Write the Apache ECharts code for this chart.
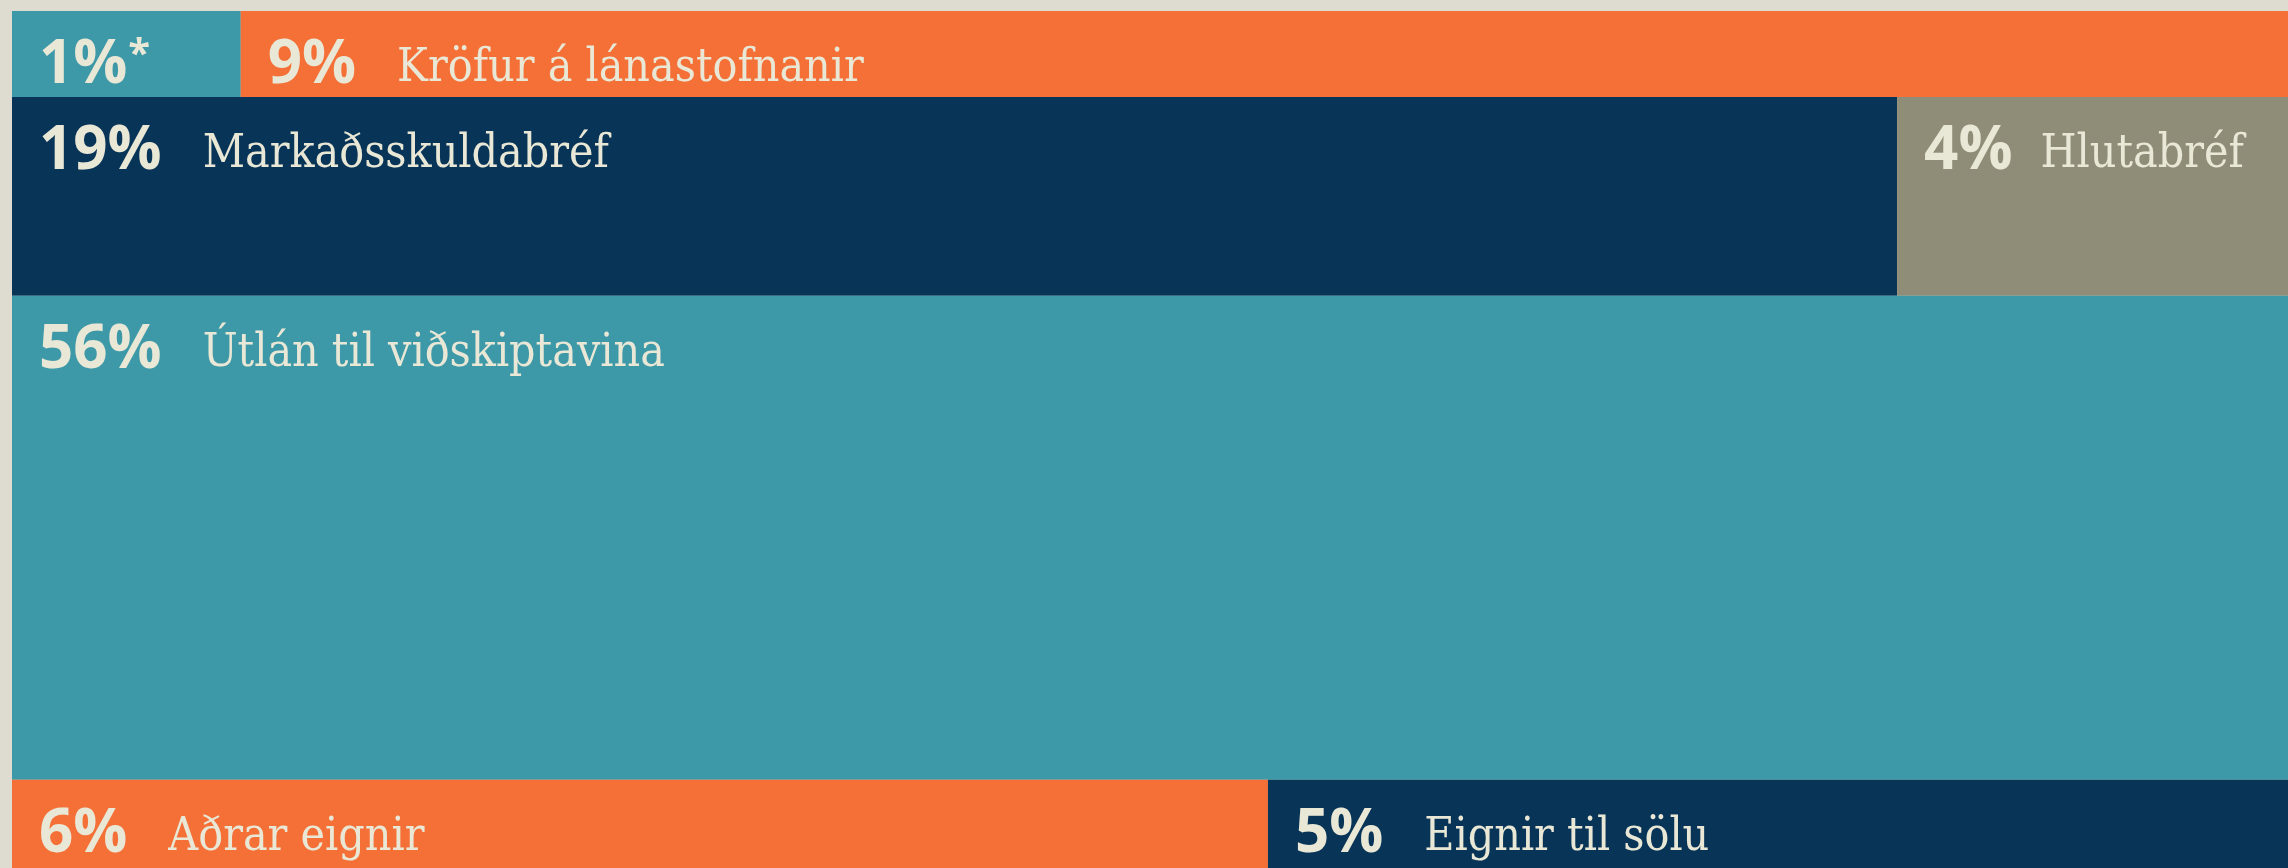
<!DOCTYPE html>
<html>
<head>
<meta charset="utf-8">
<title>Eignir</title>
<script src="https://cdn.jsdelivr.net/npm/echarts@6/dist/echarts.min.js"></script>
<style>
  html, body { margin: 0; padding: 0; background: #dedbd0; }
  #chart { width: 2288px; height: 868px; }
</style>
</head>
<body>
<div id="chart"></div>
<script>
// eignaflokkar, í röð frá efstu línu til neðstu
const categories = ['', 'Kröfur á lánastofnanir', 'Markaðsskuldabréf', 'Hlutabréf', 'Útlán til viðskiptavina', 'Aðrar eignir', 'Eignir til sölu'];
// hlutfall af heildareignum (%), lesið af myndinni
const shares = [1.0, 8.95, 19.05, 3.95, 56.0, 6.07, 4.93];
const notes = ['*', '', '', '', '', '', ''];
// hvaða lína hver flokkur er í
const rows = [0, 0, 1, 1, 2, 3, 3];

const colors = ['#3d98a7', '#f47037', '#073457', '#8f8d77', '#3d98a7', '#f47037', '#073457'];
const textColor = '#e9e7d6';
const pctFont = 'bold 60px "Open Sans"';
const noteFont = 'bold 40px "Open Sans"';
const nameFont = '46px "DejaVu Serif Condensed", "DejaVu Serif"';
const nameGap = { 3: 28 };

// reikna út kassana: x innan línu (0-100), y uppsafnað
const data = [];
let yStart = 0;
for (let r = 0; r <= Math.max(...rows); r++) {
  const idx = rows.map((v, i) => v === r ? i : -1).filter(i => i >= 0);
  const total = idx.reduce((s, i) => s + shares[i], 0);
  let xStart = 0;
  idx.forEach(i => {
    const w = shares[i] / total * 100;
    data.push([xStart, xStart + w, yStart, yStart + total, i]);
    xStart += w;
  });
  yStart += total;
}

const ctx = document.createElement('canvas').getContext('2d');
function textWidth (str, font) {
  ctx.font = font;
  return ctx.measureText(str).width;
}

const chart = echarts.init(document.getElementById('chart'));
chart.setOption({
  backgroundColor: '#dedbd0',
  animation: false,
  grid: { left: 12, top: 11, right: 0, bottom: 0 },
  xAxis: { type: 'value', min: 0, max: 100, show: false },
  // neðsta línan nær út fyrir myndina
  yAxis: { type: 'value', min: 0, max: 99.15, inverse: true, show: false },
  series: [{
    type: 'custom',
    data: data,
    clip: false,
    renderItem (params, api) {
      const i = api.value(4);
      const p0 = api.coord([api.value(0), api.value(2)]);
      const p1 = api.coord([api.value(1), api.value(3)]);
      const pct = Math.round(shares[i]) + '%';
      const tx = p0[0] + 27;
      const pw = textWidth(pct, pctFont);
      const nw = notes[i] ? textWidth(notes[i], noteFont) + 2 : 0;
      const nx = tx + pw + nw + (nameGap[i] || 41);
      const children = [
        {
          type: 'rect',
          shape: { x: p0[0], y: p0[1], width: p1[0] - p0[0], height: p1[1] - p0[1] },
          style: { fill: colors[i] }
        },
        {
          type: 'text',
          style: { x: tx, y: p0[1] + 55, text: pct, font: pctFont, fill: textColor, verticalAlign: 'middle' }
        }
      ];
      if (notes[i]) {
        children.push({
          type: 'text',
          style: { x: tx + pw + 1, y: p0[1] + 45, text: notes[i], font: noteFont, fill: textColor, verticalAlign: 'middle' }
        });
      }
      if (categories[i]) {
        children.push({
          type: 'text',
          style: { x: nx, y: p0[1] + 58, text: categories[i], font: nameFont, fill: textColor, verticalAlign: 'middle' }
        });
      }
      return { type: 'group', children: children };
    }
  }]
});
</script>
</body>
</html>
